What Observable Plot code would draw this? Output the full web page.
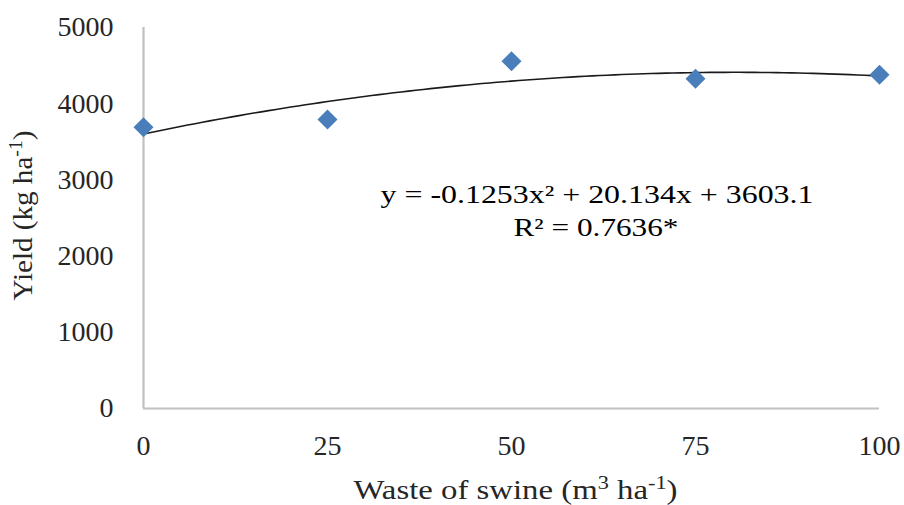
<!DOCTYPE html>
<html>
<head>
<meta charset="utf-8">
<script src="https://cdn.jsdelivr.net/npm/d3@7"></script>
<script src="https://cdn.jsdelivr.net/npm/@observablehq/plot@0.6"></script>
<style>
  html, body { margin: 0; padding: 0; background: #ffffff; }
  #chart svg { display: block; }
</style>
</head>
<body>
<div id="chart"></div>
<script>
// ---- data ----
const wasteDoses = [0, 25, 50, 75, 100];
const yieldValues = [3692, 3793, 4558, 4327, 4379];
const xTicks = [0, 25, 50, 75, 100];
const yTicks = [0, 1000, 2000, 3000, 4000, 5000];
// quadratic trendline coefficients as printed on the chart: a x^2 + b x + c
const trendCoefficients = [-0.1253, 20.134, 3603.1];
const equationText = "y = -0.1253x² + 20.134x + 3603.1";
const r2Text = "R² = 0.7636*";
// axis titles as [text, superscript?] parts
const xTitleParts = [["Waste of swine (m", false], ["3", true], [" ha", false], ["-1", true], [")", false]];
const yTitleParts = [["Yield (kg ha", false], ["-1", true], [")", false]];

const points = wasteDoses.map((x, i) => ({x, y: yieldValues[i]}));
const [a, b, c] = trendCoefficients;
const trend = d3.range(0, 100.001, 1).map(x => ({x, y: a * x * x + b * x + c}));
const plain = parts => parts.map(p => p[0]).join("");

const serif = "'Liberation Serif', 'Times New Roman', serif";

const chart = Plot.plot({
  width: 904,
  height: 505,
  marginLeft: 143,
  marginRight: 25,
  marginTop: 27,
  marginBottom: 97,
  style: {fontFamily: serif, background: "#ffffff", color: "#262626"},
  x: {domain: [0, 100]},
  y: {domain: [0, 5000]},
  marks: [
    Plot.ruleX([0], {stroke: "#c0c0c0", strokeWidth: 2.2}),
    Plot.ruleY([0], {stroke: "#c0c0c0", strokeWidth: 2.2}),
    Plot.axisX({ticks: xTicks, tickSize: 0, tickPadding: 27, fontSize: 28, label: null, tickFormat: d => String(d)}),
    Plot.axisY({ticks: yTicks, tickSize: 0, tickPadding: 30, fontSize: 28, label: null, tickFormat: d => String(d)}),
    Plot.line(trend, {x: "x", y: "y", stroke: "#1a1a1a", strokeWidth: 1.6}),
    Plot.dot(points, {x: "x", y: "y", symbol: "diamond2", r: 9, fill: "#4a7ebb", stroke: "none"}),
    Plot.text([equationText], {frameAnchor: "top-left", dx: 453.5, dy: 175, lineAnchor: "bottom", textAnchor: "middle", fontSize: 25, fill: "#000"}),
    Plot.text([r2Text], {frameAnchor: "top-left", dx: 452.5, dy: 208, lineAnchor: "bottom", textAnchor: "middle", fontSize: 25, fill: "#000"}),
    Plot.text([plain(xTitleParts)], {frameAnchor: "bottom", dx: 4, dy: 90, lineAnchor: "bottom", textAnchor: "middle", fontSize: 27, fill: "#262626"}),
    Plot.text([plain(yTitleParts)], {frameAnchor: "left", dx: -112, dy: -2.5, rotate: -90, lineAnchor: "bottom", textAnchor: "middle", fontSize: 27, fill: "#262626"})
  ]
});

document.getElementById("chart").appendChild(chart);

function findText(str) {
  return Array.from(chart.querySelectorAll("text")).find(t => t.textContent === str) || null;
}
function withSuperscripts(t, parts) {
  if (!t) return null;
  t.textContent = "";
  for (const [s, sup] of parts) {
    const ts = document.createElementNS("http://www.w3.org/2000/svg", "tspan");
    ts.textContent = s;
    if (sup) { ts.setAttribute("baseline-shift", "super"); ts.setAttribute("font-size", "68%"); }
    t.appendChild(ts);
  }
  return t;
}
function stretch(t, len) {
  if (!t) return;
  t.setAttribute("textLength", len);
  t.setAttribute("lengthAdjust", "spacingAndGlyphs");
}
const xt = findText(plain(xTitleParts));
const yt = findText(plain(yTitleParts));
const e1 = findText(equationText);
const e2 = findText(r2Text);
stretch(withSuperscripts(xt, xTitleParts), 324);
stretch(withSuperscripts(yt, yTitleParts), 170);
stretch(e1, 433);
stretch(e2, 165);
</script>
</body>
</html>
